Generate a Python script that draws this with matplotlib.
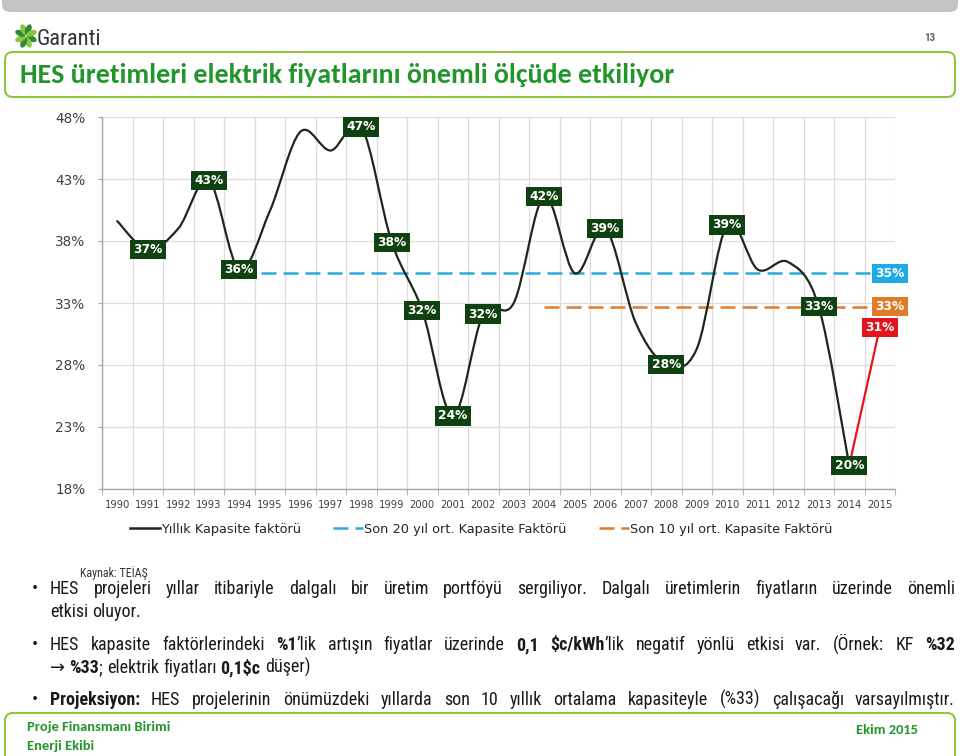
import matplotlib
matplotlib.use('Agg')
import matplotlib.pyplot as plt
from matplotlib.patches import FancyBboxPatch, Ellipse, PathPatch
from matplotlib.path import Path
from matplotlib.lines import Line2D
from matplotlib import font_manager
import numpy as np

W, H = 960, 756

# ---------------- data ----------------
years = list(range(1990, 2016))
capacity = [39.6, 37.3, 39.0, 42.9, 35.7, 40.4, 46.8, 45.3, 47.2, 37.9, 32.4, 23.9, 32.1,
            33.0, 41.6, 35.4, 39.0, 31.4, 28.05, 29.3, 39.3, 35.7, 36.3, 32.7, 19.9]  # 1990-2014
capacity_2015 = 31.0
labeled_years = [1991, 1993, 1994, 1998, 1999, 2000, 2001, 2002, 2004, 2006, 2008, 2010, 2013, 2014]
avg20 = 35.4
avg20_start = 1994
avg10 = 32.7
avg10_start = 2004
yticks = [18, 23, 28, 33, 38, 43, 48]
legend_labels = ['Yıllık Kapasite faktörü', 'Son 20 yıl ort. Kapasite Faktörü',
                 'Son 10 yıl ort. Kapasite Faktörü']

# ---------------- fonts ----------------
avail = {f.name for f in font_manager.fontManager.ttflist}
def pick(*names):
    for n in names:
        if n in avail:
            return n
    return 'DejaVu Sans'
BODY1 = pick('Liberation Sans Narrow', 'Roboto Condensed', 'Arial Narrow', 'Roboto')
BODY = [BODY1, 'DejaVu Sans']
TITLE = [pick('Carlito', 'Lato', 'Open Sans'), 'DejaVu Sans']

C_LINE = '#1b2a17'
C_BOX = '#0f4210'
C_BLUE = '#2aa9dc'
C_ORANGE = '#e07b2a'
C_RED = '#e3141c'
C_GREEN = '#22962b'

fig = plt.figure(figsize=(9.6, 7.56), dpi=100)
bg = fig.add_axes([0, 0, 1, 1])
bg.set_xlim(0, W)
bg.set_ylim(H, 0)
bg.axis('off')
renderer = fig.canvas.get_renderer()

_cache = {}
def text_width(s, size, weight, family):
    fam = family if isinstance(family, str) else tuple(family)
    key = (size, weight, fam)
    if key not in _cache:
        t = bg.text(0, 0, 'xx', fontsize=size, fontweight=weight, family=family, parse_math=False)
        _cache[key] = t.get_window_extent(renderer).width
        t.remove()
    t = bg.text(0, 0, 'x' + s + 'x', fontsize=size, fontweight=weight, family=family, parse_math=False)
    w = t.get_window_extent(renderer).width
    t.remove()
    return w - _cache[key]

def parse(markup):
    chars, bold, i = [], False, 0
    while i < len(markup):
        if markup.startswith('**', i):
            bold = not bold
            i += 2
            continue
        chars.append((markup[i], bold))
        i += 1
    words, cur = [], []
    for c, b in chars:
        if c == ' ':
            if cur:
                words.append(cur)
                cur = []
        else:
            cur.append((c, b))
    if cur:
        words.append(cur)
    out = []
    for w in words:
        runs = []
        for c, b in w:
            if runs and runs[-1][1] == b:
                runs[-1][0] += c
            else:
                runs.append([c, b])
        out.append(runs)
    return out

def run_family(s):
    return 'DejaVu Sans' if '→' in s else BODY1

def draw_line(x0, y, markup, size, color, justify_to=None):
    wr = parse(markup)
    widths = [[text_width(r[0], size, 'bold' if r[1] else 'normal', run_family(r[0])) for r in runs]
              for runs in wr]
    total = sum(sum(w) for w in widths)
    if justify_to is not None and len(wr) > 1:
        gap = (justify_to - x0 - total) / (len(wr) - 1)
    else:
        gap = text_width(' ', size, 'normal', BODY1)
    x = x0
    for runs, ws in zip(wr, widths):
        for r, w in zip(runs, ws):
            bg.text(round(x), y, r[0], fontsize=size, fontweight='bold' if r[1] else 'normal',
                    family=run_family(r[0]), color=color, va='baseline', ha='left', parse_math=False)
            x += w
        x += gap

def fit(s, target, weight, family, base=12.0):
    return base * target / text_width(s, base, weight, family)

# ---------------- slide decoration ----------------
bg.add_patch(FancyBboxPatch((2, -12), 956, 24, boxstyle='round,pad=0,rounding_size=8',
                            fc='#c4c4c4', ec='none'))
bg.add_patch(FancyBboxPatch((5, 52), 950, 45, boxstyle='round,pad=0,rounding_size=8',
                            fc='white', ec='#8dc63f', lw=1.5))
bg.add_patch(FancyBboxPatch((5, 713), 950, 70, boxstyle='round,pad=0,rounding_size=8',
                            fc='white', ec='#8dc63f', lw=1.5))

# logo
cx, cy = 26, 36
for k in range(8):
    ang = np.deg2rad(45 * k + 22.5)
    col = '#2e8b3a' if k % 2 == 0 else '#8cc63f'
    bg.add_patch(Ellipse((cx + 6 * np.cos(ang), cy + 7 * np.sin(ang)), 6, 11,
                         angle=np.rad2deg(ang) + 90, fc=col, ec='none'))
gs = fit('Garanti', 64, 'normal', BODY)
bg.text(37, 45, 'Garanti', fontsize=gs, family=BODY, color='#333333', va='baseline', ha='left')
bg.text(930, 38, '13', fontsize=8, family=BODY, fontweight='bold', color='#666666', va='center', ha='center')

title = 'HES üretimleri elektrik fiyatlarını önemli ölçüde etkiliyor'
ts = fit(title, 650, 'bold', TITLE)
bg.text(20, 83, title, fontsize=ts, fontweight='bold', family=TITLE, color=C_GREEN, va='baseline', ha='left')

# body text
L1 = 'HES projeleri yıllar itibariyle dalgalı bir üretim portföyü sergiliyor. Dalgalı üretimlerin fiyatların üzerinde önemli'
L1b = 'etkisi oluyor.'
L2 = 'HES kapasite faktörlerindeki **%1**’lik artışın fiyatlar üzerinde **0,1 $c/kWh**’lik negatif yönlü etkisi var. (Örnek: KF **%32**'
L2b = '→ **%33**; elektrik fiyatları **0,1$c** düşer)'
L3 = '**Projeksiyon:** HES projelerinin önümüzdeki yıllarda son 10 yıllık ortalama kapasiteyle (%33) çalışacağı varsayılmıştır.'
bs = 13.0
bc = '#1a1a1a'
for yb in (594, 650, 705):
    bg.text(35, yb, '•', fontsize=bs, family=BODY1, color=bc, va='baseline', ha='center')
draw_line(50, 594, L1, bs, bc, justify_to=955)
draw_line(50, 617, L1b, bs, bc)
draw_line(50, 650, L2, bs, bc, justify_to=955)
draw_line(50, 673, L2b, bs, bc)
draw_line(50, 705, L3, bs, bc, justify_to=955)

ks = fit('Kaynak: TEİAŞ', 67, 'normal', BODY)
bg.text(80, 577, 'Kaynak: TEİAŞ', fontsize=ks, family=BODY, color='#333333', va='baseline', ha='left')

fs = fit('Proje Finansmanı Birimi', 143, 'bold', TITLE)
bg.text(27, 731, 'Proje Finansmanı Birimi', fontsize=fs, fontweight='bold', family=TITLE, color=C_GREEN, va='baseline')
bg.text(27, 750, 'Enerji Ekibi', fontsize=fs, fontweight='bold', family=TITLE, color=C_GREEN, va='baseline')
bg.text(918, 734, 'Ekim 2015', fontsize=fs, fontweight='bold', family=TITLE, color=C_GREEN, va='baseline', ha='right')

# ---------------- chart ----------------
ax = fig.add_axes([102 / W, 1 - 489 / H, (895 - 102) / W, (489 - 117) / H])
ax.set_xlim(-0.5, len(years) - 0.5)
ax.set_ylim(min(yticks), max(yticks))
ax.set_yticks(yticks)
ax.set_yticklabels([f'{v}%' for v in yticks])
ax.set_xticks(range(len(years)))
ax.set_xticklabels([str(y) for y in years])
ax.set_xticks(np.arange(-0.5, len(years), 1.0), minor=True)
ax.tick_params(axis='x', which='major', length=0, pad=8, labelsize=7.2, labelcolor='#404040')
ax.tick_params(axis='x', which='minor', length=4, color='#a6a6a6', direction='out')
ax.tick_params(axis='y', which='major', length=3, color='#a6a6a6', pad=9, labelsize=9.8, labelcolor='#404040')
ax.grid(which='minor', axis='x', color='#dcdcdc', lw=0.9)
ax.grid(which='major', axis='y', color='#dcdcdc', lw=0.9)
ax.set_axisbelow(True)
for s in ('top', 'right'):
    ax.spines[s].set_visible(False)
for s in ('left', 'bottom'):
    ax.spines[s].set_color('#a6a6a6')
    ax.spines[s].set_linewidth(1.0)

# smooth (Catmull-Rom style Bezier) line
xs = np.arange(len(capacity), dtype=float)
ys = np.array(capacity)
n = len(xs)
verts = [(xs[0], ys[0])]
codes = [Path.MOVETO]
for i in range(n - 1):
    p0 = np.array([xs[max(i - 1, 0)], ys[max(i - 1, 0)]])
    p1 = np.array([xs[i], ys[i]])
    p2 = np.array([xs[i + 1], ys[i + 1]])
    p3 = np.array([xs[min(i + 2, n - 1)], ys[min(i + 2, n - 1)]])
    c1 = p1 + (p2 - p0) / 6
    c2 = p2 - (p3 - p1) / 6
    verts += [tuple(c1), tuple(c2), tuple(p2)]
    codes += [Path.CURVE4] * 3
ax.add_patch(PathPatch(Path(verts, codes), fill=False, ec=C_LINE, lw=1.6, zorder=3, capstyle='round'))

ax.plot([n - 1, n], [capacity[-1], capacity_2015], color=C_RED, lw=1.6, zorder=3)

i20 = years.index(avg20_start)
l20, = ax.plot(range(i20, len(years)), [avg20] * (len(years) - i20), color=C_BLUE, lw=1.8,
               dashes=(6, 2.8), zorder=2)
i10 = years.index(avg10_start)
l10, = ax.plot(range(i10, len(years)), [avg10] * (len(years) - i10), color=C_ORANGE, lw=1.8,
               dashes=(6, 2.8), zorder=2)

box_kw = dict(ha='center', va='center', color='white', fontweight='bold', fontsize=8.8, zorder=6,
              clip_on=False)
for yr in labeled_years:
    i = years.index(yr)
    v = capacity[i]
    ax.text(i, v, f'{v:.0f}%', bbox=dict(boxstyle='square,pad=0.26', fc=C_BOX, ec='none'), **box_kw)
ax.text(len(years) - 1, capacity_2015, f'{capacity_2015:.0f}%',
        bbox=dict(boxstyle='square,pad=0.26', fc=C_RED, ec='none'), **box_kw)
ax.text(len(years) - 1 + 0.33, avg20, f'{avg20:.0f}%',
        bbox=dict(boxstyle='square,pad=0.26', fc='#1eaae7', ec='none'), **box_kw)
ax.text(len(years) - 1 + 0.33, avg10, f'{avg10:.0f}%',
        bbox=dict(boxstyle='square,pad=0.26', fc=C_ORANGE, ec='none'), **box_kw)

h_black = Line2D([], [], color=C_LINE, lw=1.8)
fig.legend([h_black, l20, l10], legend_labels, loc='center', bbox_to_anchor=(481 / W, 1 - 529 / H),
           ncol=3, frameon=False, fontsize=9.3, handlelength=2.3, handletextpad=0.1,
           columnspacing=2.5, labelcolor='#262626')

fig.savefig('out.png', dpi=100)
